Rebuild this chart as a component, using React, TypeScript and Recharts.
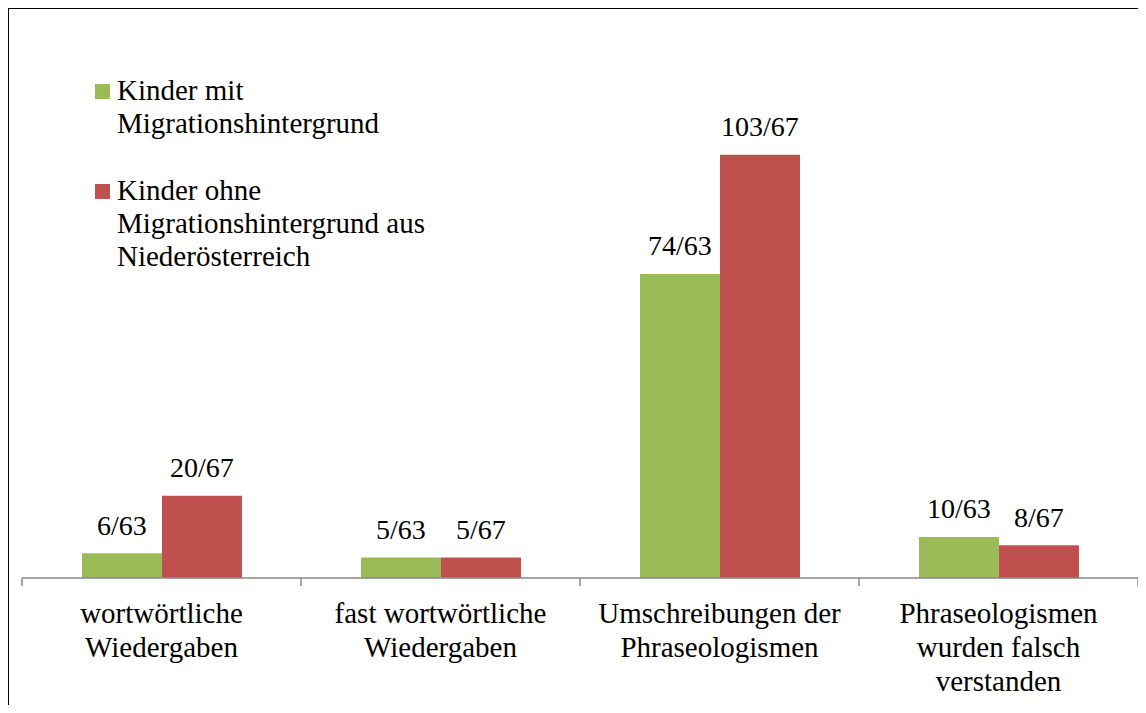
import React from 'react';
import { BarChart, Bar, XAxis, YAxis, Legend, LabelList } from 'recharts';

const categories = [
    'wortwörtliche\nWiedergaben',
    'fast wortwörtliche\nWiedergaben',
    'Umschreibungen der\nPhraseologismen',
    'Phraseologismen\nwurden falsch\nverstanden',
];
const migrantCounts = [6, 5, 74, 10];
const nativeCounts = [20, 5, 103, 8];
const migrantTotal = 63;
const nativeTotal = 67;
const seriesNames = ['Kinder mit Migrationshintergrund', 'Kinder ohne Migrationshintergrund aus Niederösterreich'];

const data = categories.map((name, i) => ({
    name,
    migrant: migrantCounts[i],
    native: nativeCounts[i],
}));

const FONT = 'Liberation Serif, FreeSerif, serif';
const AXIS_GRAY = '#878787';

// category labels + tick marks at the band edges
const CategoryTick = (props: any) => {
    const { x, y, payload, index, visibleTicksCount, width } = props;
    const half = payload.offset ?? width / visibleTicksCount / 2;
    const lines = String(payload.value).split('\n');
    return (
        <g>
            <line x1={x - half} x2={x - half} y1={y - 8} y2={y} stroke={AXIS_GRAY} strokeWidth={1.5} />
            {index === visibleTicksCount - 1 && (
                <line x1={x + half} x2={x + half} y1={y - 8} y2={y} stroke={AXIS_GRAY} strokeWidth={1.5} />
            )}
            <text x={x} y={y} textAnchor="middle" fontFamily={FONT} fontSize={29} fill="#000">
                {lines.map((l, i) => (
                    <tspan key={i} x={x} dy={i === 0 ? 37 : 34}>{l}</tspan>
                ))}
            </text>
        </g>
    );
};

const LegendContent = ({ payload }: any) => (
    <div style={{ fontFamily: FONT, fontSize: 29, lineHeight: '33px', color: '#000' }}>
        {(payload || []).map((entry: any, i: number) => (
            <div key={i} style={{ display: 'flex', alignItems: 'flex-start', marginBottom: 34 }}>
                <div style={{ width: 15, height: 15, background: entry.color, marginTop: 10, marginRight: 7, flexShrink: 0 }} />
                <div style={{ width: 320 }}>{entry.value}</div>
            </div>
        ))}
    </div>
);

const App: React.FC = () => {
    return (
        <div
            style={{
                marginLeft: -1,
                marginTop: -1,
                width: 1139,
                height: 698,
                borderLeft: '2px solid #000',
                borderTop: '2px solid #000',
                boxSizing: 'border-box',
                overflow: 'hidden',
                fontFamily: FONT,
            }}
        >
            <style>{`.recharts-wrapper, .recharts-wrapper text, .recharts-legend-wrapper { font-family: 'Liberation Serif', FreeSerif, serif; }`}</style>
            <BarChart
                width={1137}
                height={696}
                data={data}
                margin={{ top: 76, right: 8, bottom: 0, left: 13 }}
                barCategoryGap="21.5%"
                barGap={0}
            >
                <YAxis hide domain={[0, 120]} />
                <XAxis
                    dataKey="name"
                    height={127}
                    interval={0}
                    tickSize={8}
                    tickMargin={0}
                    tickLine={false}
                    axisLine={{ stroke: AXIS_GRAY, strokeWidth: 1.5 }}
                    tick={<CategoryTick />}
                />
                <Legend
                    layout="vertical"
                    align="center"
                    verticalAlign="middle"
                    content={<LegendContent />}
                    wrapperStyle={{ left: 86, top: 65, width: 360 }}
                />
                <Bar dataKey="migrant" name={seriesNames[0]} fill="#9BBB59" isAnimationActive={false}>
                    <LabelList
                        dataKey="migrant"
                        position="top"
                        offset={18.5}
                        formatter={(v: any) => `${v}/${migrantTotal}`}
                        fill="#000"
                        fontFamily={FONT}
                        fontSize={28}
                    />
                </Bar>
                <Bar dataKey="native" name={seriesNames[1]} fill="#C0504D" isAnimationActive={false}>
                    <LabelList
                        dataKey="native"
                        position="top"
                        offset={18.5}
                        formatter={(v: any) => `${v}/${nativeTotal}`}
                        fill="#000"
                        fontFamily={FONT}
                        fontSize={28}
                    />
                </Bar>
            </BarChart>
        </div>
    );
};

export default App;
